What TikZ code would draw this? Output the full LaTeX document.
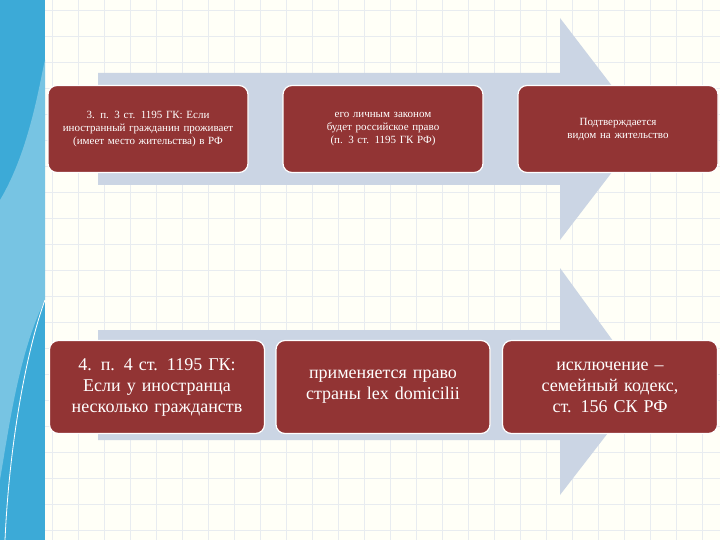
\documentclass[tikz,border=0pt]{standalone}
\usepackage{fontspec}
\setmainfont{Liberation Serif}
\definecolor{boxred}{RGB}{146,52,52}
\definecolor{arr}{RGB}{203,213,228}
\definecolor{band}{RGB}{60,170,215}
\definecolor{gridc}{RGB}{232,236,240}
\begin{document}
\begin{tikzpicture}[x=1pt,y=-1pt,
  box/.style={draw=white,line width=1.2pt,fill=boxred,rounded corners=9pt,text=white,align=center,inner sep=2pt},
  small/.style={box,font=\fontsize{11}{13}\selectfont},
  big/.style={box,font=\fontsize{18}{21}\selectfont}]
\useasboundingbox (0,0) rectangle (720,540);
\fill[white!97!yellow] (0,0) rectangle (720,540);
\foreach \x in {52,78,...,720} \draw[gridc,line width=0.8pt] (\x,0) -- (\x,540);
\foreach \y in {10,36,...,540} \draw[gridc,line width=0.8pt] (45,\y) -- (720,\y);
\fill[band] (0,0) rectangle (45,540);
\fill[band!70!white] (0,200) .. controls (30,150) and (40,80) .. (45,60) -- (45,300) .. controls (20,350) and (10,420) .. (0,480) -- cycle;
\draw[white,line width=0.8pt] (5,540) .. controls (10,430) and (30,340) .. (45,300);
\fill[arr] (98,73) -- (560,73) -- (560,18) -- (645,129) -- (560,240) -- (560,185) -- (98,185) -- cycle;
\fill[arr] (98,330) -- (560,330) -- (560,268) -- (645,385) -- (560,495) -- (560,440) -- (98,440) -- cycle;
\node[small,minimum width=200pt,minimum height=87pt,text width=180pt] (a1) at (148,129) {3. п. 3 ст. 1195 ГК: Если иностранный гражданин проживает (имеет место жительства) в РФ};
\node[small,minimum width=200pt,minimum height=87pt,text width=180pt] (a2) at (383,129) {его личным законом будет российское право (п. 3 ст. 1195 ГК РФ)};
\node[small,minimum width=200pt,minimum height=87pt,text width=180pt] (a3) at (618,129) {Подтверждается видом на жительство};
\node[big,minimum width=215pt,minimum height=93pt,text width=205pt] (b1) at (157,387) {4. п. 4 ст. 1195 ГК:\\Если у иностранца несколько гражданств};
\node[big,minimum width=214pt,minimum height=93pt,text width=200pt] (b2) at (383,387) {применяется право страны lex domicilii};
\node[big,minimum width=215pt,minimum height=93pt,text width=205pt] (b3) at (610,387) {исключение –\\семейный кодекс, ст. 156 СК РФ};
\end{tikzpicture}
\end{document}
